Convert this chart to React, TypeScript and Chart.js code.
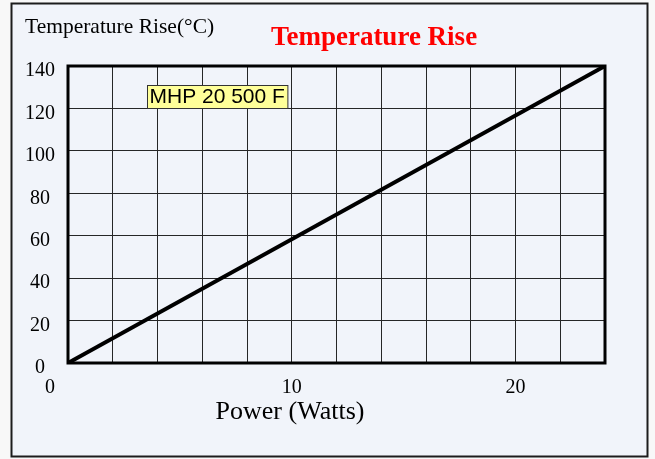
import React, { useEffect, useRef } from 'react';
import { Chart, registerables } from 'chart.js';

Chart.register(...registerables);

// ---- data ----
const powerWatts = [0, 24];
const tempRise = [0, 140];
const xRange = [0, 24];
const xStep = 2;
const xLabeledTicks = [10, 20];
const yRange = [0, 140];
const yStep = 20;
const chartTitle = 'Temperature Rise';
const yAxisTitle = 'Temperature Rise(°C)';
const xAxisTitle = 'Power (Watts)';
const originLabel = '0';
const annotationText = 'MHP 20 500 F';
const annotationAnchor = [3.53, 131]; // data coords (top-left of label box)

const SERIF = '"Liberation Serif", "Times New Roman", serif';
const SANS = '"Liberation Sans", Arial, sans-serif';

const decorPlugin = {
  id: 'decor',
  beforeDraw(chart: any) {
    const { ctx, width, height } = chart;
    ctx.save();
    ctx.fillStyle = '#f8f8f8';
    ctx.fillRect(0, 0, width, height);
    ctx.fillStyle = '#f1f4fa';
    ctx.fillRect(11.5, 3.5, 636, 453);
    ctx.strokeStyle = '#1c1c1c';
    ctx.lineWidth = 2;
    ctx.strokeRect(11.5, 3.5, 636, 453);
    ctx.restore();
  },
  beforeDatasetsDraw(chart: any) {
    const { ctx, chartArea } = chart;
    ctx.save();
    ctx.strokeStyle = '#000';
    ctx.lineWidth = 3;
    ctx.strokeRect(chartArea.left, chartArea.top, chartArea.right - chartArea.left, chartArea.bottom - chartArea.top);
    ctx.restore();
  },
  afterDraw(chart: any) {
    const { ctx } = chart;
    const xs = chart.scales.x;
    const ys = chart.scales.y;
    ctx.save();
    // top-left axis caption
    ctx.fillStyle = '#000';
    ctx.font = `21.5px ${SERIF}`;
    ctx.textAlign = 'left';
    ctx.textBaseline = 'middle';
    ctx.fillText(yAxisTitle, 25, 27);
    // red title
    ctx.fillStyle = '#ff0000';
    ctx.font = `bold 27px ${SERIF}`;
    ctx.textAlign = 'center';
    ctx.fillText(chartTitle, 374, 38);
    // x axis title
    ctx.fillStyle = '#000';
    ctx.font = `26px ${SERIF}`;
    ctx.fillText(xAxisTitle, 290, 412);
    // x origin label (offset left in original)
    ctx.font = `20px ${SERIF}`;
    ctx.fillText(originLabel, xs.getPixelForValue(xRange[0]) - 18, 388);
    // annotation box
    const ax = xs.getPixelForValue(annotationAnchor[0]);
    const ay = ys.getPixelForValue(annotationAnchor[1]);
    ctx.font = `21px ${SANS}`;
    const tw = ctx.measureText(annotationText).width;
    const bw = tw + 5;
    const bh = 23;
    ctx.fillStyle = '#ffff99';
    ctx.fillRect(Math.round(ax) + 0.5, Math.round(ay) + 0.5, bw, bh);
    ctx.strokeStyle = '#333';
    ctx.lineWidth = 1;
    ctx.strokeRect(Math.round(ax) + 0.5, Math.round(ay) + 0.5, bw, bh);
    ctx.fillStyle = '#000';
    ctx.textAlign = 'left';
    ctx.textBaseline = 'middle';
    ctx.fillText(annotationText, ax + 2.5, ay + bh / 2 + 1);
    ctx.restore();
  },
};

export default function App() {
  const ref = useRef<HTMLCanvasElement>(null);

  useEffect(() => {
    document.body.style.margin = '0';
    const canvas = ref.current!;
    const points = powerWatts.map((x, i) => ({ x, y: tempRise[i] }));
    const chart = new Chart(canvas, {
      type: 'line',
      data: {
        datasets: [
          {
            label: chartTitle,
            data: points,
            borderColor: '#000',
            borderWidth: 4,
            pointRadius: 0,
            tension: 0,
            fill: false,
          },
        ],
      },
      options: {
        animation: false,
        responsive: false,
        devicePixelRatio: 1,
        layout: { padding: { left: 20, right: 50, top: 66, bottom: 26 } },
        plugins: {
          legend: { display: false },
          title: { display: false },
          tooltip: { enabled: false },
        },
        scales: {
          x: {
            type: 'linear',
            min: xRange[0],
            max: xRange[1],
            ticks: {
              stepSize: xStep,
              autoSkip: false,
              maxRotation: 0,
              padding: 13,
              color: '#000',
              font: { family: SERIF, size: 20 },
              callback: (v: any) => (xLabeledTicks.includes(Number(v)) ? String(v) : ''),
            },
            grid: { color: '#262626', lineWidth: 1, drawTicks: false },
            border: { display: false },
            title: { display: false },
            afterFit: (s: any) => {
              s.height = 70;
            },
          },
          y: {
            type: 'linear',
            min: yRange[0],
            max: yRange[1],
            ticks: {
              stepSize: yStep,
              padding: 13,
              crossAlign: 'center',
              labelOffset: 5,
              color: '#000',
              font: { family: SERIF, size: 20 },
            },
            grid: { color: '#262626', lineWidth: 1, drawTicks: false },
            border: { display: false },
            afterFit: (s: any) => {
              s.width = 48;
            },
          },
        },
      } as any,
      plugins: [decorPlugin],
    });
    return () => chart.destroy();
  }, []);

  return (
    <div style={{ width: 655, height: 459 }}>
      <canvas ref={ref} width={655} height={459} style={{ display: 'block', width: 655, height: 459 }} />
    </div>
  );
}
